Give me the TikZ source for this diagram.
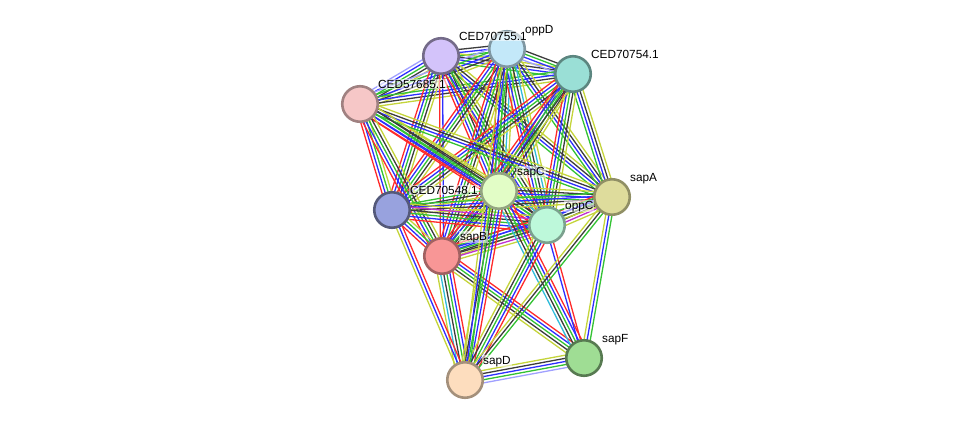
\documentclass[tikz,border=0pt]{standalone}
\usepackage{fontspec}
\setmainfont{Liberation Sans}
\usetikzlibrary{calc,backgrounds}
% evidence channel colours
\definecolor{nb}{HTML}{33C233}
\definecolor{fu}{HTML}{FF2A2A}
\definecolor{co}{HTML}{2E2EFF}
\definecolor{cx}{HTML}{3C3C3C}
\definecolor{ex}{HTML}{C030D0}
\definecolor{db}{HTML}{30BCDA}
\definecolor{tm}{HTML}{C4D43A}
\definecolor{hm}{HTML}{A0A0FF}
% protein colours
\definecolor{lilac}{HTML}{D3C3FA}
\definecolor{sky}{HTML}{C3E8F9}
\definecolor{teal}{HTML}{9ADFD6}
\definecolor{rose}{HTML}{F6C7C7}
\definecolor{lime}{HTML}{E2FDC6}
\definecolor{khaki}{HTML}{DEDC9C}
\definecolor{slate}{HTML}{98A2DE}
\definecolor{mint}{HTML}{BDF8DA}
\definecolor{salmon}{HTML}{F89696}
\definecolor{leaf}{HTML}{9FDD94}
\definecolor{peach}{HTML}{FDDDBE}

\newcommand\linksep{3.1}
% one bundle of parallel lines between two proteins
\newcommand\bundle[3]{%
  \foreach \c [count=\n] in {#3} {\xdef\bundlen{\n}}%
  \foreach \c [count=\i] in {#3} {%
    \pgfmathsetmacro\off{(\i-(\bundlen+1)/2)*\linksep}%
    \draw[link,draw=\c] ($(#1.center)!\off pt!90:(#2.center)$) -- ($(#2.center)!\off pt!-90:(#1.center)$);
  }%
}

\begin{document}
\begin{tikzpicture}[
  x=1pt,y=-1pt,
  prot/.style={circle,draw,line width=2.6pt,minimum size=35.5pt,inner sep=0pt},
  lab/.style={anchor=base west,xshift=17pt,yshift=16pt,inner sep=1pt,fill=white,fill opacity=0.55,text opacity=1,font=\fontsize{11.8}{13}\selectfont},
  link/.style={line width=1.3pt}
]
\useasboundingbox (0,0) rectangle (976,426);

\node[prot,fill=lilac,draw=lilac!55!black] (ced55) at (441,56) {};
\node[prot,fill=sky,draw=sky!65!black] (oppd) at (507,49) {};
\node[prot,fill=teal,draw=teal!60!black] (ced54) at (573,74) {};
\node[prot,fill=rose,draw=rose!65!black] (ced85) at (360,104) {};
\node[prot,fill=lime,draw=lime!65!black] (sapc) at (499,191) {};
\node[prot,fill=khaki,draw=khaki!65!black] (sapa) at (612,197) {};
\node[prot,fill=slate,draw=slate!55!black] (ced48) at (392,210) {};
\node[prot,fill=mint,draw=mint!65!black] (oppc) at (547,225) {};
\node[prot,fill=salmon,draw=salmon!65!black] (sapb) at (442,256) {};
\node[prot,fill=leaf,draw=leaf!55!black] (sapf) at (584,358) {};
\node[prot,fill=peach,draw=peach!65!black] (sapd) at (465,380) {};

\node[lab] at (ced55) {CED70755.1};
\node[lab] at (oppd) {oppD};
\node[lab] at (ced54) {CED70754.1};
\node[lab] at (ced85) {CED57685.1};
\node[lab] at (sapc) {sapC};
\node[lab] at (sapa) {sapA};
\node[lab] at (ced48) {CED70548.1};
\node[lab] at (oppc) {oppC};
\node[lab] at (sapb) {sapB};
\node[lab] at (sapf) {sapF};
\node[lab] at (sapd) {sapD};

\begin{scope}[on background layer]
% top group
\bundle{ced55}{oppd}{hm,nb,co,cx}
\bundle{ced55}{ced54}{nb,co,cx,tm}
\bundle{ced55}{ced85}{hm,co,nb,cx,tm}
\bundle{oppd}{ced54}{hm,co,nb,cx}
\bundle{oppd}{ced85}{hm,nb,co,cx,tm}
\bundle{ced54}{ced85}{nb,co,cx,tm}
% top to middle
\bundle{ced55}{sapc}{fu,co,nb,cx,tm}
\bundle{ced55}{sapa}{nb,co,cx,tm}
\bundle{ced55}{ced48}{fu,co,nb,cx,tm}
\bundle{ced55}{oppc}{fu,co,nb,cx,tm}
\bundle{ced55}{sapb}{fu,co}
\bundle{oppd}{sapc}{fu,co,nb,cx,db,tm}
\bundle{oppd}{sapa}{nb,co,cx,tm}
\bundle{oppd}{ced48}{fu,co,nb,cx,tm}
\bundle{oppd}{oppc}{fu,co,nb,cx,db,tm}
\bundle{oppd}{sapb}{fu,co,nb,cx,tm}
\bundle{ced54}{sapc}{fu,co,nb,cx,tm}
\bundle{ced54}{sapa}{nb,co,cx,tm}
\bundle{ced54}{ced48}{fu,co,nb,cx,tm}
\bundle{ced54}{oppc}{fu,co,nb,cx,tm}
\bundle{ced54}{sapb}{fu,co,nb,cx,tm}
\bundle{ced85}{sapc}{fu,co,nb,cx,tm}
\bundle{ced85}{sapa}{nb,co,cx,tm}
\bundle{ced85}{ced48}{fu,co,nb,tm}
\bundle{ced85}{oppc}{fu,co,nb,cx,tm}
\bundle{ced85}{sapb}{fu,co,nb,cx,tm}
% middle group
\bundle{sapc}{sapa}{nb,co,cx,tm}
\bundle{sapc}{ced48}{nb,cx,tm}
\bundle{sapc}{oppc}{fu,co,nb,cx,db,tm}
\bundle{sapc}{sapb}{fu,co,nb,cx,tm}
\bundle{sapa}{ced48}{nb,co,cx,tm}
\bundle{sapa}{oppc}{fu,co,nb,cx,ex,tm}
\bundle{sapa}{sapb}{nb,co,cx,tm}
\bundle{ced48}{oppc}{fu,co,nb,cx,ex,tm}
\bundle{ced48}{sapb}{fu,co,nb,tm}
\bundle{oppc}{sapb}{fu,co,nb,cx,ex,tm}
% bottom
\bundle{sapf}{sapd}{tm,cx,co,nb,hm}
\bundle{sapf}{sapb}{fu,co,nb,cx,tm}
\bundle{sapf}{sapc}{fu,co,nb,cx,db}
\bundle{sapf}{oppc}{fu,co}
\bundle{sapf}{sapa}{nb,co,tm}
\bundle{sapd}{sapb}{fu,co,nb,cx,db,tm}
\bundle{sapd}{ced48}{fu,co,tm}
\bundle{sapd}{sapc}{fu,co,nb,cx,tm}
\bundle{sapd}{oppc}{fu,co,nb,cx,tm}
\bundle{sapd}{sapa}{nb,cx,tm}
\bundle{sapd}{oppd}{nb,co,tm}
\end{scope}
\end{tikzpicture}
\end{document}
